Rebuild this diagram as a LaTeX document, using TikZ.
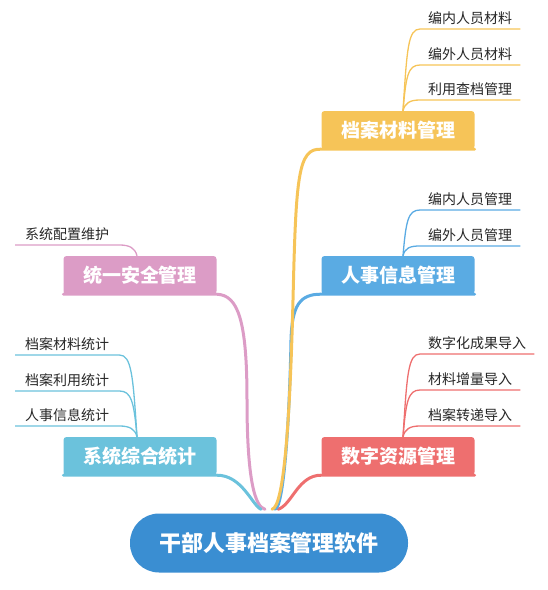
\documentclass[tikz,border=0pt]{standalone}
\usepackage{fontspec}
\setmainfont{Noto Sans CJK SC}
\usetikzlibrary{backgrounds}
\definecolor{rootblue}{HTML}{3A8ED2}
\definecolor{yel}{HTML}{F6C458}
\definecolor{blu}{HTML}{5AABE3}
\definecolor{rdd}{HTML}{EE6F6F}
\definecolor{pnk}{HTML}{DC9CC6}
\definecolor{cyn}{HTML}{6BC2DC}
\begin{document}
\begin{tikzpicture}[x=1pt,y=-1pt,
    topic/.style={fill=#1,text=white,font=\fontsize{19}{21}\selectfont\bfseries,rounded corners=3pt,minimum width=153pt,minimum height=38pt,inner sep=0pt},
    leaf/.style={anchor=south west,text=black!85,font=\fontsize{14}{16}\selectfont,inner xsep=8pt,inner ysep=4pt},
    lleaf/.style={leaf,inner xsep=10pt},
    link/.style={draw=#1,line width=3pt,line cap=round},
    twig/.style={draw=#1,line width=1.3pt}]
\useasboundingbox (0,0) rectangle (548,590);
\node[fill=rootblue,text=white,rounded corners=29pt,minimum width=278pt,minimum height=59pt,font=\fontsize{22}{24}\selectfont\bfseries] (root) at (269,543) {干部人事档案管理软件};
\coordinate (hub) at ([yshift=4pt]root.north);

\node[topic=yel] (arch) at (398,130) {档案材料管理};
\node[topic=blu] (pers) at (398,275) {人事信息管理};
\node[topic=rdd] (digi) at (398,456) {数字资源管理};
\node[topic=pnk] (safe) at (140,275) {统一安全管理};
\node[topic=cyn] (stat) at (140,456) {系统综合统计};

\node[leaf] (a1) at (420,29) {编内人员材料};
\node[leaf] (a2) at (420,65) {编外人员材料};
\node[leaf] (a3) at (420,100) {利用查档管理};
\node[leaf] (b1) at (420,210) {编内人员管理};
\node[leaf] (b2) at (420,246) {编外人员管理};
\node[leaf] (c1) at (420,354) {数字化成果导入};
\node[leaf] (c2) at (420,390) {材料增量导入};
\node[leaf] (c3) at (420,426) {档案转递导入};
\node[lleaf] (d1) at (15,245) {系统配置维护};
\node[lleaf] (e1) at (15,355) {档案材料统计};
\node[lleaf] (e2) at (15,391) {档案利用统计};
\node[lleaf] (e3) at (15,426) {人事信息统计};

\begin{scope}[on background layer]
\draw[link=pnk] ([xshift=-4pt]hub) .. controls (255,507) and (247,480) .. (247,400) .. controls (247,320) and (238,295) .. (safe.south east) -- (safe.south west);
\draw[link=cyn] ([xshift=-8pt]hub) .. controls (252,505) and (242,475) .. (stat.south east) -- (stat.south west);
\draw[link=rdd] ([xshift=9pt]hub) .. controls (292,505) and (298,475) .. (digi.south west) -- (digi.south east);
\draw[link=blu] ([xshift=6pt]hub) .. controls (285,507) and (290,400) .. (291,340) .. controls (292,305) and (300,294) .. (pers.south west) -- (pers.south east);
\draw[link=yel] ([xshift=3pt]hub) .. controls (284,507) and (290,420) .. (293,300) .. controls (296,175) and (298,148) .. (arch.south west) -- (arch.south east);

\draw[twig=yel] ([xshift=5pt]arch.north) .. controls +(4,-62) and +(-12,0) .. (a1.south west) -- (a1.south east);
\draw[twig=yel] ([xshift=5pt]arch.north) .. controls +(3,-35) and +(-12,0) .. (a2.south west) -- (a2.south east);
\draw[twig=yel] ([xshift=5pt]arch.north) .. controls +(2,-8) and +(-10,0) .. (a3.south west) -- (a3.south east);
\draw[twig=blu] ([xshift=5pt]pers.north) .. controls +(3,-35) and +(-12,0) .. (b1.south west) -- (b1.south east);
\draw[twig=blu] ([xshift=5pt]pers.north) .. controls +(2,-8) and +(-10,0) .. (b2.south west) -- (b2.south east);
\draw[twig=rdd] ([xshift=5pt]digi.north) .. controls +(4,-62) and +(-12,0) .. (c1.south west) -- (c1.south east);
\draw[twig=rdd] ([xshift=5pt]digi.north) .. controls +(3,-35) and +(-12,0) .. (c2.south west) -- (c2.south east);
\draw[twig=rdd] ([xshift=5pt]digi.north) .. controls +(2,-8) and +(-10,0) .. (c3.south west) -- (c3.south east);
\draw[twig=pnk] ([xshift=-3pt]safe.north) .. controls +(-2,-8) and +(10,0) .. (d1.south east) -- (d1.south west);
\draw[twig=cyn] ([xshift=-3pt]stat.north) .. controls +(-4,-62) and +(12,0) .. (e1.south east) -- (e1.south west);
\draw[twig=cyn] ([xshift=-3pt]stat.north) .. controls +(-3,-35) and +(12,0) .. (e2.south east) -- (e2.south west);
\draw[twig=cyn] ([xshift=-3pt]stat.north) .. controls +(-2,-8) and +(10,0) .. (e3.south east) -- (e3.south west);
\end{scope}
\end{tikzpicture}
\end{document}
